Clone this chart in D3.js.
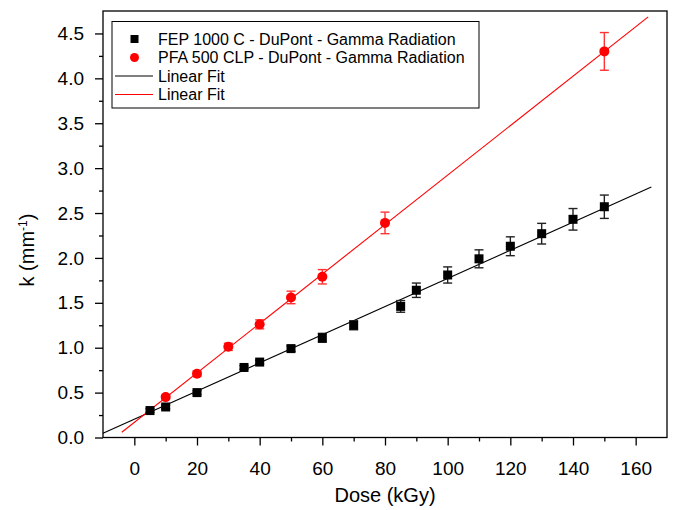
<!DOCTYPE html>
<html lang="en">
<head>
<meta charset="UTF-8">
<script src="https://cdn.jsdelivr.net/npm/d3@7"></script>
<title>k vs Dose</title>
<style>
  body { margin: 0; background: #fff; }
  text { font-family: "Liberation Sans", Arial, sans-serif; }
</style>
</head>
<body>
<script>
// FEP 1000 C (black squares)
const fepDose = [5, 10, 20, 35, 40, 50, 60, 70, 85, 90, 100, 110, 120, 130, 140, 150]
const fepK    = [0.30, 0.34, 0.50, 0.78, 0.84, 0.99, 1.11, 1.25, 1.46, 1.64, 1.81, 1.99, 2.13, 2.27, 2.43, 2.57]
const fepErr  = [0.02, 0.02, 0.02, 0.02, 0.02, 0.03, 0.05, 0.05, 0.065, 0.08, 0.09, 0.10, 0.105, 0.115, 0.12, 0.13]

// PFA 500 CLP (red circles)
const pfaDose = [10, 20, 30, 40, 50, 60, 80, 150]
const pfaK    = [0.45, 0.71, 1.01, 1.26, 1.56, 1.79, 2.39, 4.30]
const pfaErr  = [0.02, 0.03, 0.04, 0.05, 0.07, 0.08, 0.12, 0.21]

// linear fit end points [dose, k]
const fepFit = [[-10, 0.047], [165, 2.79]]
const pfaFit = [[-4, 0.058], [164, 4.685]]

const legendLabels = [
  "FEP 1000 C - DuPont - Gamma Radiation",
  "PFA 500 CLP - DuPont - Gamma Radiation",
  "Linear Fit",
  "Linear Fit"
]

const xMajor = [0, 20, 40, 60, 80, 100, 120, 140, 160]
const xMinor = [10, 30, 50, 70, 90, 110, 130, 150]
const yMajor = [0, 0.5, 1, 1.5, 2, 2.5, 3, 3.5, 4, 4.5]
const yMinor = [0.25, 0.75, 1.25, 1.75, 2.25, 2.75, 3.25, 3.75, 4.25]

const width = 676, height = 510
const plotL = 103, plotR = 667, plotT = 11, plotB = 437.5

const svg = d3.select("body").append("svg").attr("width", width).attr("height", height)

const x = d3.scaleLinear().domain([-10, 170]).range([plotL, plotR])
const y = d3.scaleLinear().domain([0, 4.75]).range([plotB, plotT])

// frame
svg.append("rect")
  .attr("x", plotL).attr("y", plotT)
  .attr("width", plotR - plotL).attr("height", plotB - plotT)
  .attr("fill", "none").attr("stroke", "#000").attr("stroke-width", 1.3)

// x axis
const gx = svg.append("g").attr("transform", `translate(0,${plotB})`)
gx.call(d3.axisBottom(x).tickValues(xMajor).tickSize(8).tickPadding(16).tickFormat(d3.format("d")))
gx.append("g").call(d3.axisBottom(x).tickValues(xMinor).tickSize(4).tickFormat(""))
gx.selectAll(".domain").remove()
gx.selectAll("line").attr("stroke-width", 1.3)
gx.selectAll("text").attr("font-size", 19).attr("fill", "#000").attr("font-family", "Liberation Sans, Arial, sans-serif")

// y axis
const gy = svg.append("g").attr("transform", `translate(${plotL},0)`)
gy.call(d3.axisLeft(y).tickValues(yMajor).tickSize(8).tickPadding(11).tickFormat(d3.format(".1f")))
gy.append("g").call(d3.axisLeft(y).tickValues(yMinor).tickSize(4).tickFormat(""))
gy.selectAll(".domain").remove()
gy.selectAll("line").attr("stroke-width", 1.3)
gy.selectAll("text").attr("font-size", 19).attr("fill", "#000").attr("font-family", "Liberation Sans, Arial, sans-serif")

// axis titles
svg.append("text")
  .attr("x", (plotL + plotR) / 2).attr("y", 502)
  .attr("text-anchor", "middle").attr("font-size", 20)
  .text("Dose (kGy)")

const yt = svg.append("text")
  .attr("transform", `translate(34,250) rotate(-90)`)
  .attr("text-anchor", "middle").attr("font-size", 20)
yt.append("tspan").text("k (mm")
yt.append("tspan").attr("baseline-shift", "super").attr("font-size", 12).text("-1")
yt.append("tspan").text(")")

// fit lines
const line = d3.line().x(d => x(d[0])).y(d => y(d[1]))
svg.append("path").attr("d", line(fepFit)).attr("fill", "none").attr("stroke", "#000").attr("stroke-width", 1.1)
svg.append("path").attr("d", line(pfaFit)).attr("fill", "none").attr("stroke", "#f00").attr("stroke-width", 1.1)

// error bars
function errorBars(dose, k, err, color) {
  const g = svg.append("g").attr("stroke", color).attr("stroke-width", 1.4).attr("fill", "none")
  dose.forEach((d, i) => {
    const cx = x(d), y1 = y(k[i] - err[i]), y2 = y(k[i] + err[i])
    g.append("line").attr("x1", cx).attr("x2", cx).attr("y1", y1).attr("y2", y2)
    g.append("line").attr("x1", cx - 4.5).attr("x2", cx + 4.5).attr("y1", y1).attr("y2", y1)
    g.append("line").attr("x1", cx - 4.5).attr("x2", cx + 4.5).attr("y1", y2).attr("y2", y2)
  })
}
errorBars(fepDose, fepK, fepErr, "#222")
errorBars(pfaDose, pfaK, pfaErr, "#f33")

// markers
const sq = 9
svg.append("g").selectAll("rect")
  .data(fepDose)
  .enter()
  .append("rect")
  .attr("x", d => x(d) - sq / 2)
  .attr("y", (d, i) => y(fepK[i]) - sq / 2)
  .attr("width", sq).attr("height", sq)
  .attr("fill", "#000")

svg.append("g").selectAll("circle")
  .data(pfaDose)
  .enter()
  .append("circle")
  .attr("cx", d => x(d))
  .attr("cy", (d, i) => y(pfaK[i]))
  .attr("r", 5)
  .attr("fill", "#f00")

// legend
const lg = svg.append("g")
lg.append("rect")
  .attr("x", 112).attr("y", 21.5).attr("width", 367).attr("height", 86.5)
  .attr("fill", "#fff").attr("stroke", "#000").attr("stroke-width", 1)

const rowY = [39, 57.5, 76, 94.5]
lg.append("rect").attr("x", 134.5 - 4).attr("y", rowY[0] - 4).attr("width", 8).attr("height", 8).attr("fill", "#000")
lg.append("circle").attr("cx", 134.5).attr("cy", rowY[1]).attr("r", 4.5).attr("fill", "#f00")
lg.append("line").attr("x1", 115).attr("x2", 153).attr("y1", rowY[2]).attr("y2", rowY[2]).attr("stroke", "#000").attr("stroke-width", 1.1)
lg.append("line").attr("x1", 115).attr("x2", 153).attr("y1", rowY[3]).attr("y2", rowY[3]).attr("stroke", "#f00").attr("stroke-width", 1.1)

lg.selectAll(".lt")
  .data(legendLabels)
  .enter()
  .append("text")
  .attr("class", "lt")
  .attr("x", 158)
  .attr("y", (d, i) => rowY[i])
  .attr("dy", "0.35em")
  .attr("font-size", 16)
  .text(d => d)
</script>
</body>
</html>
